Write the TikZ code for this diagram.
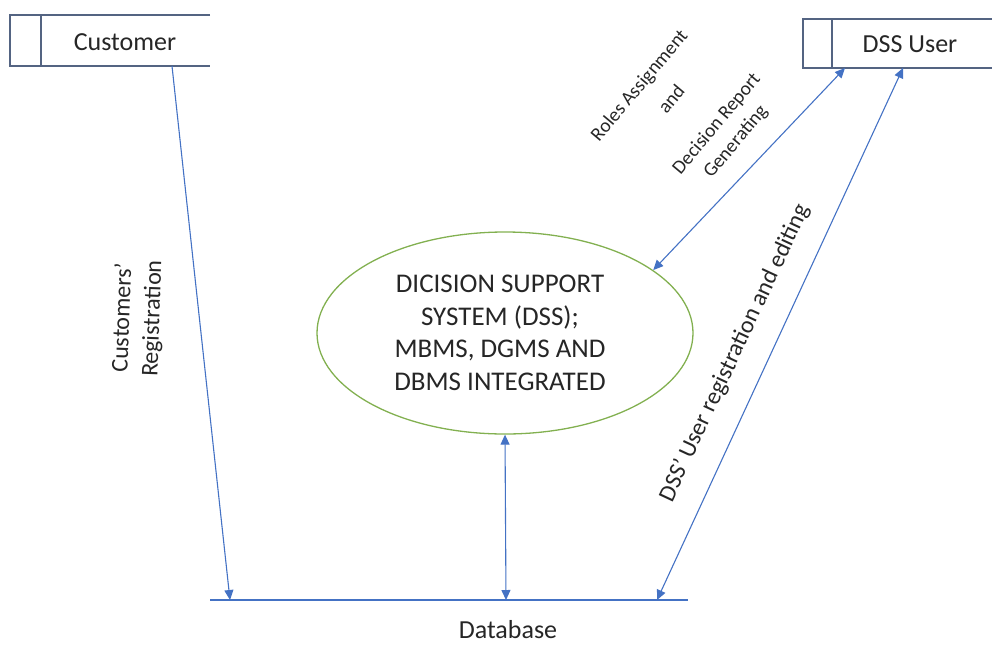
\documentclass[tikz,border=0pt]{standalone}
\usepackage{fontspec}
\setmainfont{Carlito}
\usetikzlibrary{arrows.meta,shapes.geometric}
\definecolor{arrowblue}{RGB}{68,114,196}
\definecolor{boxline}{RGB}{84,100,130}
\definecolor{ellgreen}{RGB}{130,176,80}
\definecolor{txt}{RGB}{38,38,38}
\begin{document}
\begin{tikzpicture}[x=1pt,y=-1pt,
  flow/.style={draw=arrowblue,line width=1.1pt,-{Triangle[length=10pt,width=9pt]}},
  biflow/.style={draw=arrowblue,line width=1.1pt,{Triangle[length=10pt,width=9pt]}-{Triangle[length=10pt,width=9pt]}},
  entline/.style={draw=boxline,line width=1.3pt},
  dbline/.style={draw=arrowblue,line width=1.4pt},
  lbl/.style={text=txt,inner sep=0pt,font=\fontsize{26}{32}\selectfont},
  proclbl/.style={text=txt,inner sep=0pt,font=\fontsize{27}{32.5}\selectfont},
  rotlbl/.style={text=txt,inner sep=0pt,font=\fontsize{24}{30}\selectfont},
  smalllbl/.style={text=txt,inner sep=0pt,rotate=50,font=\fontsize{19.5}{23}\selectfont}]
\useasboundingbox (0,0) rectangle (992,651);
% Customer entity
\draw[entline] (210,15) -- (10,15) -- (10,66) -- (210,66);
\draw[entline] (41,15) -- (41,66);
\node[lbl] (customer) at (125,42) {Customer};
% DSS User entity
\draw[entline] (992,19) -- (803,19) -- (803,68) -- (992,68);
\draw[entline] (832,19) -- (832,68);
\node[lbl] (dssuser) at (910,44) {DSS User};
\coordinate (cust-out) at (172,66);
\coordinate (user-a) at (845,68);
\coordinate (user-b) at (903,68);
% Process
\node[ellipse,draw=ellgreen,line width=1.3pt,minimum width=376pt,minimum height=202pt,
      inner sep=0pt] (dss) at (505,333) {};
\node[proclbl,align=center] (dsstext) at (500,333)
  {DICISION SUPPORT\\SYSTEM (DSS);\\MBMS, DGMS AND\\DBMS INTEGRATED};
% Database
\coordinate (dbL) at (210,600);
\coordinate (dbR) at (688,600);
\coordinate (db-a) at (230,600);
\coordinate (db-b) at (506,600);
\coordinate (db-c) at (657,600);
\draw[dbline] (dbL) -- (dbR);
\node[lbl] (database) at (508,630) {Database};
% Flows
\draw[flow] (cust-out) -- (db-a);
\draw[biflow] (dss.south) -- (db-b);
\draw[biflow] (user-a) -- (dss.23);
\draw[biflow] (user-b) -- (db-c);
% Labels
\node[rotlbl,rotate=88,align=center] (reglbl) at (138,318) {Customers'\\Registration};
\node[rotlbl,rotate=65] (userlbl) at (735,353) {DSS' User registration and editing};
\node[smalllbl] (roles1) at (640,86) {Roles Assignment};
\node[smalllbl] (roles2) at (671,99) {and};
\node[smalllbl] (roles3) at (717,124) {Decision Report};
\node[smalllbl] (roles4) at (736,142) {Generating};
\end{tikzpicture}
\end{document}
